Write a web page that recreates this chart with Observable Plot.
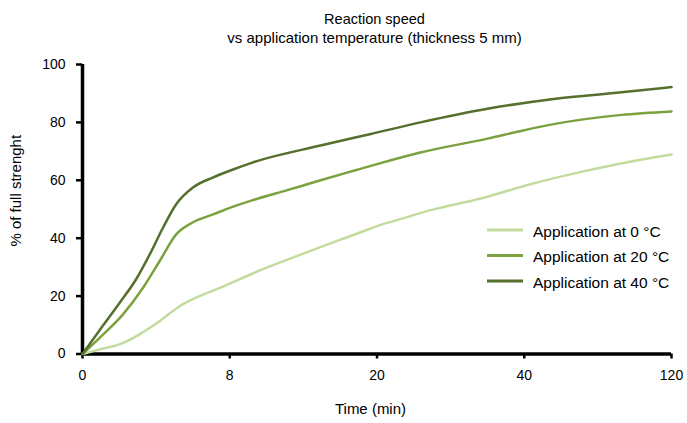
<!DOCTYPE html>
<html>
<head>
<meta charset="utf-8">
<script src="https://cdn.jsdelivr.net/npm/d3@7"></script>
<script src="https://cdn.jsdelivr.net/npm/@observablehq/plot@0.6"></script>
<style>
  html, body { margin: 0; padding: 0; background: #fff; }
  #chart svg { display: block; }
</style>
</head>
<body>
<div id="chart"></div>
<script>
// ---- data ----
const titleLines = ["Reaction speed", "vs application temperature (thickness 5 mm)"];
const xLabel = "Time (min)";
const yLabel = "% of full strenght";
const timeTicks = [0, 8, 20, 40, 120];
const strengthTicks = [0, 20, 40, 60, 80, 100];
const seriesNames = ["Application at 0 °C", "Application at 20 °C", "Application at 40 °C"];
const seriesColors = ["#c3dc9d", "#7ba23e", "#556f2d"];

const time0 = [0, 0.93, 2.0, 3.1, 4.2, 5.3, 6.4, 7.5, 8, 10.7, 13.5, 16.2, 18.9, 20.5, 22.8, 27.3, 34.1, 43.7, 71, 98.2, 120];
const strength0 = [0, 1.6, 3.3, 6.8, 11.4, 16.6, 20.1, 22.9, 24.3, 29.3, 33.9, 38.2, 42.4, 44.6, 46.3, 49.7, 53.7, 58.7, 62.9, 66.5, 68.9];

const time20 = [0, 0.93, 2.2, 3.29, 4.2, 5.1, 6.0, 7.1, 8, 10, 12.7, 15.4, 18.1, 20, 25.9, 35, 40, 56, 92.8, 120];
const strength20 = [0, 5.6, 13.7, 22.9, 32.2, 41.4, 45.5, 48.2, 50.5, 53.3, 56.6, 60.0, 63.3, 65.6, 69.6, 74.4, 77.3, 79.4, 82.6, 83.8];

const time40 = [0, 0.93, 2.0, 2.93, 3.66, 4.38, 5.1, 6.0, 7.1, 8, 9.9, 15.4, 19.5, 25.9, 35, 56, 92.8, 120];
const strength40 = [0, 8.2, 17.5, 26.0, 34.5, 43.7, 51.8, 57.5, 61.0, 63.3, 66.2, 72.0, 76.0, 80.0, 84.7, 88.1, 90.4, 92.2];

// ---- build table ----
const seriesTimes = [time0, time20, time40];
const seriesValues = [strength0, strength20, strength40];
const rows = seriesNames.flatMap((name, i) =>
  seriesTimes[i].map((t, j) => ({series: name, time: t, strength: seriesValues[i][j]}))
);

const FONT = "'Liberation Sans', Arial, Helvetica, sans-serif";

// title, axis labels and legend drawn relative to the plot dimensions
function decorations(index, scales, values, dims) {
  const {width, height, marginLeft, marginRight, marginTop, marginBottom} = dims;
  const left = marginLeft, right = width - marginRight;
  const top = marginTop, bottom = height - marginBottom;
  const g = d3.create("svg:g").attr("font-family", FONT).attr("fill", "#000");
  const cx = (left + right) / 2 - 2;

  g.append("text").attr("x", cx).attr("y", top - 40).attr("text-anchor", "middle")
    .attr("font-size", 14.5).text(titleLines[0]);
  g.append("text").attr("x", cx).attr("y", top - 21).attr("text-anchor", "middle")
    .attr("font-size", 15).text(titleLines[1]);

  g.append("text").attr("x", cx - 4).attr("y", bottom + 60).attr("text-anchor", "middle")
    .attr("font-size", 15).text(xLabel);
  g.append("text").attr("transform", `translate(${left - 61},${(top + bottom) / 2 - 18}) rotate(-90)`)
    .attr("text-anchor", "middle").attr("font-size", 15).text(yLabel);

  const lx = right - 184, ly = top + 166;
  seriesNames.forEach((name, i) => {
    const y = ly + i * 25.5;
    g.append("line").attr("x1", lx).attr("x2", lx + 36).attr("y1", y).attr("y2", y)
      .attr("stroke", seriesColors[i]).attr("stroke-width", 3);
    g.append("text").attr("x", lx + 46).attr("y", y + 6.5).attr("text-anchor", "start")
      .attr("font-size", 15.5).text(name);
  });
  return g.node();
}

const chart = Plot.plot({
  width: 687,
  height: 423,
  marginLeft: 82,
  marginRight: 16,
  marginTop: 64,
  marginBottom: 69.5,
  style: {fontFamily: FONT, fontSize: "14px", color: "#000", background: "#fff", overflow: "visible"},
  x: {type: "linear", domain: timeTicks, label: null},
  y: {type: "linear", domain: [0, 100], label: null},
  color: {domain: seriesNames, range: seriesColors},
  marks: [
    Plot.axisY({ticks: strengthTicks, tickSize: 6, tickPadding: 11, strokeWidth: 2.5, fontSize: 14, label: null}),
    Plot.axisX({ticks: timeTicks, tickSize: 5, tickPadding: 11, strokeWidth: 2.5, fontSize: 14, label: null}),
    Plot.ruleX([0], {stroke: "#000", strokeWidth: 3.5}),
    Plot.ruleY([0], {stroke: "#000", strokeWidth: 3.5}),
    Plot.line(rows, {x: "time", y: "strength", z: "series", stroke: "series", strokeWidth: 2.5, curve: "monotone-x"}),
    decorations
  ]
});

document.getElementById("chart").append(chart);
</script>
</body>
</html>
